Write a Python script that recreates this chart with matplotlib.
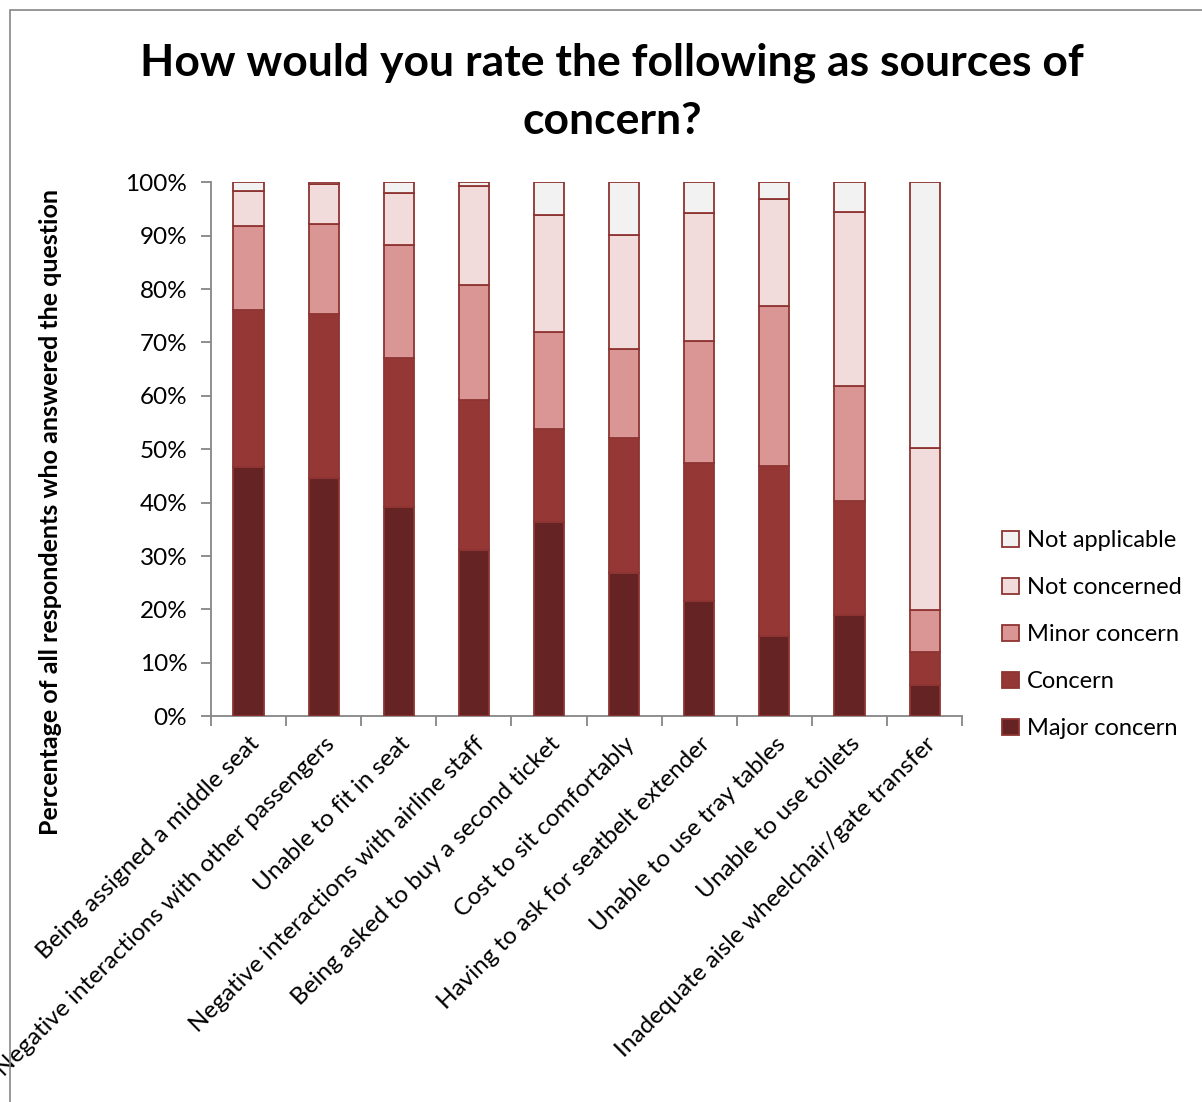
import matplotlib
matplotlib.use("Agg")
from matplotlib import pyplot as plt
from matplotlib.patches import Rectangle
import numpy as np

plt.rcParams["font.family"] = ["Lato", "DejaVu Sans"]

categories = ["Being assigned a middle seat",
              "Negative interactions with other passengers",
              "Unable to fit in seat",
              "Negative interactions with airline staff",
              "Being asked to buy a second ticket",
              "Cost to sit comfortably",
              "Having to ask for seatbelt extender",
              "Unable to use tray tables",
              "Unable to use toilets",
              "Inadequate aisle wheelchair/gate transfer"]

major_concern = [46.7, 44.6, 39.1, 31.1, 36.4, 26.8, 21.6, 15.0, 19.0, 5.8]
concern = [29.3, 30.8, 28.0, 28.2, 17.4, 25.3, 25.9, 31.9, 21.4, 6.2]
minor_concern = [15.8, 16.8, 21.2, 21.5, 18.1, 16.6, 22.8, 29.9, 21.4, 7.9]
not_concerned = [6.5, 7.5, 9.6, 18.5, 22.0, 21.4, 24.0, 20.1, 32.6, 30.3]
not_applicable = [1.7, 0.3, 2.1, 0.7, 6.1, 9.9, 5.7, 3.1, 5.6, 49.8]

series = [("Major concern", major_concern, "#652323"),
          ("Concern", concern, "#953735"),
          ("Minor concern", minor_concern, "#D99694"),
          ("Not concerned", not_concerned, "#F2DCDB"),
          ("Not applicable", not_applicable, "#F2F2F2")]

fig = plt.figure(figsize=(12.02, 11.02), dpi=100)
ax = fig.add_axes([0.1755, 0.350, 0.625, 0.4846])

x = np.arange(len(categories))
bottom = np.zeros(len(categories))
for name, vals, color in series:
    ax.bar(x, vals, width=0.4, bottom=bottom, color=color,
           edgecolor="#8E3432", linewidth=1.3, label=name, zorder=3)
    bottom += np.array(vals)

ax.set_xlim(-0.5, len(categories) - 0.5)
ax.set_ylim(0, 100)
ax.set_yticks(np.arange(0, 101, 10))
ax.set_yticklabels([f"{v}%" for v in range(0, 101, 10)], fontsize=17.5)
ax.set_xticks(x)
ax.set_xticklabels(categories, rotation=45, ha="right", va="top",
                   rotation_mode="anchor", fontsize=17.5)
ax.tick_params(axis="x", length=0, pad=12)
ax.set_xticks(np.arange(-0.5, len(categories) + 0.5, 1), minor=True)
ax.tick_params(axis="x", which="minor", length=7, color="#868686", width=1.3)
ax.tick_params(axis="y", length=7, color="#868686", width=1.3, pad=10)

for s in ["top", "right"]:
    ax.spines[s].set_visible(False)
for s in ["left", "bottom"]:
    ax.spines[s].set_color("#868686")
    ax.spines[s].set_linewidth(1.3)

ax.set_ylabel("Percentage of all respondents who answered the question",
              fontsize=18, fontweight="bold")
ax.yaxis.set_label_coords(62 / 1202, 0.535, transform=fig.transFigure)

fig.text(0.509, 0.917, "How would you rate the following as sources of\nconcern?",
         ha="center", va="center", fontsize=32, fontweight="bold",
         linespacing=1.55)

handles, labels = ax.get_legend_handles_labels()
fig.legend(handles[::-1], labels[::-1], loc="center left",
           bbox_to_anchor=(0.816, 0.424), frameon=False, fontsize=17,
           handlelength=0.7, handleheight=0.7, handletextpad=0.35,
           labelspacing=1.1)

fig.patches.append(Rectangle((10 / 1202, -0.1), 1.2, 1.1 - 10 / 1102,
                             transform=fig.transFigure, fill=False,
                             edgecolor="#868686", linewidth=1.2))

fig.savefig("out.png", dpi=100)
plt.close(fig)
